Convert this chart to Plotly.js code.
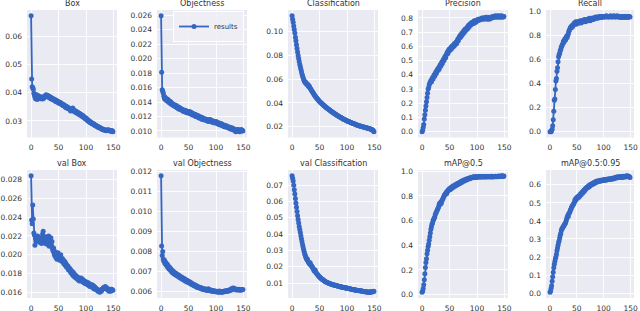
<!DOCTYPE html>
<html><head><meta charset="utf-8">
<script src="https://cdn.plot.ly/plotly-3.0.1.min.js"></script>
<style>html,body{margin:0;padding:0;background:#fff}#chart{width:640px;height:311px}</style>
</head><body><div id="chart"></div>
<script>
const epochs = [];
for (let i = 0; i < 150; i++) epochs.push(i);

const titles = ["Box","Objectness","Classification","Precision","Recall","val Box","val Objectness","val Classification","mAP@0.5","mAP@0.5:0.95"];
const tickFormats = [".2f",".3f",".2f",".1f",".1f",".3f",".3f",".2f",".1f",".1f"];
const tickSteps = [0.01,0.002,0.02,0.1,0.2,0.002,0.001,0.01,0.2,0.1];
const legendName = "results";

const box = [
0.0672,0.0448,0.0421,0.0418,0.0412,0.0398,0.0392,0.0385,0.0379,0.0394,
0.0388,0.0376,0.0391,0.0383,0.0387,0.0380,0.0385,0.0379,0.0382,0.0386,
0.0381,0.0378,0.0384,0.0380,0.0383,0.0386,0.0389,0.0393,0.0390,0.0388,
0.0391,0.0386,0.0384,0.0387,0.0381,0.0385,0.0379,0.0382,0.0377,0.0380,
0.0375,0.0378,0.0373,0.0376,0.0371,0.0369,0.0373,0.0367,0.0370,0.0365,
0.0368,0.0363,0.0366,0.0361,0.0364,0.0359,0.0362,0.0357,0.0355,0.0358,
0.0353,0.0356,0.0350,0.0348,0.0352,0.0346,0.0349,0.0344,0.0347,0.0342,
0.0345,0.0340,0.0335,0.0343,0.0338,0.0341,0.0346,0.0336,0.0339,0.0333,
0.0336,0.0331,0.0334,0.0328,0.0332,0.0326,0.0329,0.0324,0.0327,0.0321,
0.0324,0.0319,0.0322,0.0317,0.0315,0.0318,0.0312,0.0314,0.0309,0.0311,
0.0306,0.0309,0.0304,0.0301,0.0303,0.0298,0.0300,0.0295,0.0297,0.0293,
0.0295,0.0290,0.0292,0.0288,0.0290,0.0286,0.0287,0.0283,0.0285,0.0281,
0.0282,0.0279,0.0280,0.0277,0.0278,0.0275,0.0276,0.0273,0.0274,0.0271,
0.0272,0.0269,0.0270,0.0268,0.0269,0.0266,0.0268,0.0265,0.0267,0.0268,
0.0266,0.0269,0.0267,0.0265,0.0266,0.0264,0.0266,0.0263,0.0265,0.0262];

const objectness = [
0.0259,0.0181,0.0157,0.0155,0.0152,0.0148,0.0145,0.0147,0.0143,0.0145,
0.0142,0.0144,0.0141,0.0143,0.0140,0.0139,0.0141,0.0138,0.0140,0.0137,
0.0138,0.0136,0.0137,0.0135,0.0136,0.0134,0.0136,0.0133,0.0135,0.0132,
0.0133,0.0131,0.0133,0.0130,0.0132,0.0130,0.0131,0.0129,0.0130,0.0128,
0.0129,0.0127,0.0129,0.0127,0.0128,0.0126,0.0128,0.0125,0.0127,0.0126,
0.0126,0.0124,0.0127,0.0125,0.0126,0.0123,0.0125,0.0122,0.0124,0.0123,
0.0123,0.0121,0.0123,0.0120,0.0122,0.0120,0.0121,0.0119,0.0121,0.0118,
0.0120,0.0118,0.0119,0.0117,0.0119,0.0116,0.0118,0.0116,0.0117,0.0115,
0.0117,0.0115,0.0116,0.0114,0.0116,0.0115,0.0113,0.0115,0.0114,0.0116,
0.0115,0.0113,0.0114,0.0112,0.0114,0.0112,0.0113,0.0111,0.0113,0.0112,
0.0113,0.0111,0.0112,0.0110,0.0111,0.0109,0.0111,0.0109,0.0110,0.0108,
0.0110,0.0108,0.0109,0.0107,0.0108,0.0106,0.0108,0.0106,0.0107,0.0105,
0.0107,0.0105,0.0106,0.0104,0.0105,0.0103,0.0105,0.0103,0.0104,0.0102,
0.0104,0.0102,0.0103,0.0101,0.0102,0.0100,0.0099,0.0101,0.0100,0.0102,
0.0102,0.0100,0.0101,0.0099,0.0101,0.0100,0.0102,0.0100,0.0101,0.0100];

const classification = [
0.1135,0.1105,0.1080,0.1050,0.1020,0.0990,0.0955,0.0925,0.0890,0.0860,
0.0830,0.0800,0.0775,0.0750,0.0725,0.0705,0.0685,0.0665,0.0645,0.0630,
0.0615,0.0600,0.0588,0.0580,0.0570,0.0575,0.0562,0.0555,0.0560,0.0548,
0.0540,0.0545,0.0532,0.0525,0.0518,0.0510,0.0502,0.0495,0.0488,0.0480,
0.0472,0.0465,0.0458,0.0452,0.0446,0.0440,0.0435,0.0429,0.0424,0.0418,
0.0413,0.0409,0.0404,0.0400,0.0396,0.0391,0.0387,0.0383,0.0379,0.0375,
0.0371,0.0367,0.0363,0.0360,0.0356,0.0352,0.0349,0.0345,0.0342,0.0338,
0.0335,0.0331,0.0328,0.0325,0.0321,0.0318,0.0315,0.0312,0.0309,0.0305,
0.0302,0.0299,0.0296,0.0293,0.0291,0.0288,0.0285,0.0282,0.0279,0.0277,
0.0274,0.0271,0.0269,0.0266,0.0264,0.0261,0.0259,0.0256,0.0254,0.0252,
0.0250,0.0247,0.0245,0.0243,0.0241,0.0239,0.0237,0.0235,0.0233,0.0231,
0.0229,0.0227,0.0225,0.0224,0.0222,0.0220,0.0218,0.0217,0.0215,0.0213,
0.0212,0.0210,0.0209,0.0207,0.0206,0.0204,0.0203,0.0201,0.0200,0.0199,
0.0197,0.0196,0.0195,0.0194,0.0192,0.0191,0.0190,0.0189,0.0188,0.0187,
0.0185,0.0183,0.0181,0.0180,0.0178,0.0176,0.0174,0.0171,0.0165,0.0158];

const precision = [
0.00,0.01,0.03,0.05,0.09,0.12,0.15,0.18,0.21,0.24,
0.27,0.30,0.31,0.33,0.34,0.35,0.36,0.35,0.37,0.38,
0.37,0.39,0.40,0.39,0.41,0.42,0.41,0.43,0.44,0.43,
0.45,0.44,0.46,0.47,0.46,0.48,0.49,0.48,0.50,0.51,
0.50,0.52,0.53,0.52,0.54,0.55,0.56,0.55,0.57,0.58,
0.57,0.58,0.59,0.58,0.60,0.59,0.60,0.61,0.60,0.62,
0.61,0.62,0.63,0.62,0.64,0.65,0.64,0.66,0.67,0.66,
0.68,0.67,0.69,0.68,0.70,0.69,0.71,0.70,0.72,0.71,
0.72,0.73,0.72,0.74,0.73,0.75,0.74,0.75,0.76,0.75,
0.76,0.77,0.76,0.77,0.76,0.78,0.77,0.78,0.77,0.78,
0.785,0.78,0.79,0.785,0.79,0.785,0.79,0.795,0.79,0.80,
0.795,0.80,0.79,0.80,0.795,0.80,0.805,0.80,0.79,0.80,
0.805,0.80,0.79,0.80,0.795,0.80,0.805,0.80,0.81,0.805,
0.81,0.805,0.81,0.815,0.81,0.805,0.81,0.815,0.81,0.805,
0.81,0.815,0.81,0.805,0.81,0.815,0.81,0.805,0.81,0.81];

const recall = [
0.00,0.00,0.00,0.01,0.02,0.05,0.10,0.17,0.26,0.27,
0.35,0.42,0.44,0.50,0.53,0.58,0.62,0.64,0.65,0.67,
0.68,0.70,0.71,0.72,0.73,0.75,0.74,0.76,0.77,0.76,
0.78,0.79,0.78,0.80,0.81,0.83,0.84,0.85,0.86,0.87,
0.86,0.88,0.87,0.88,0.89,0.90,0.89,0.90,0.91,0.89,
0.90,0.91,0.90,0.91,0.90,0.91,0.92,0.91,0.90,0.92,
0.91,0.92,0.91,0.92,0.93,0.92,0.91,0.92,0.93,0.92,
0.93,0.92,0.93,0.94,0.93,0.92,0.93,0.94,0.93,0.94,
0.94,0.93,0.94,0.945,0.94,0.95,0.94,0.945,0.95,0.94,
0.95,0.945,0.95,0.955,0.95,0.945,0.95,0.955,0.95,0.95,
0.955,0.95,0.955,0.95,0.955,0.96,0.955,0.95,0.955,0.95,
0.955,0.95,0.955,0.96,0.955,0.95,0.955,0.95,0.955,0.96,
0.955,0.95,0.955,0.95,0.955,0.96,0.955,0.95,0.955,0.95,
0.955,0.95,0.945,0.95,0.955,0.95,0.955,0.95,0.945,0.95,
0.955,0.95,0.955,0.95,0.945,0.95,0.955,0.95,0.955,0.95];

const valBox = [
0.0284,0.0237,0.0233,0.0253,0.0238,0.0223,0.0221,0.0210,0.0217,0.0214,
0.0219,0.0216,0.0220,0.0214,0.0217,0.0215,0.0213,0.0218,0.0215,0.0212,
0.0216,0.0222,0.0225,0.0219,0.0214,0.0217,0.0212,0.0219,0.0215,0.0211,
0.0218,0.0213,0.0220,0.0209,0.0216,0.0212,0.0218,0.0210,0.0214,0.0206,
0.0204,0.0207,0.0201,0.0199,0.0203,0.0197,0.0200,0.0195,0.0198,0.0202,
0.0196,0.0199,0.0194,0.0197,0.0200,0.0195,0.0193,0.0196,0.0192,0.0194,
0.0190,0.0193,0.0189,0.0191,0.0187,0.0189,0.0186,0.0188,0.0184,0.0186,
0.0183,0.0185,0.0181,0.0183,0.0180,0.0182,0.0178,0.0181,0.0177,0.0179,
0.0176,0.0178,0.0175,0.0177,0.0174,0.0176,0.0173,0.0175,0.0172,0.0174,
0.0173,0.0175,0.0172,0.0174,0.0171,0.0173,0.0170,0.0172,0.0171,0.0169,
0.0171,0.0169,0.0170,0.0168,0.0170,0.0167,0.0169,0.0166,0.0168,0.0167,
0.0166,0.0168,0.0165,0.0167,0.0164,0.0166,0.0163,0.0165,0.0164,0.0163,
0.0162,0.0163,0.0161,0.0162,0.0161,0.0160,0.0161,0.0162,0.0161,0.0163,
0.0163,0.0164,0.0165,0.0164,0.0165,0.0166,0.0164,0.0165,0.0163,0.0164,
0.0162,0.0163,0.0161,0.0162,0.0163,0.0161,0.0162,0.0163,0.0162,0.0162];

const valObjectness = [
0.01178,0.00828,0.00780,0.00800,0.00762,0.00752,0.00758,0.00740,0.00748,0.00735,
0.00730,0.00738,0.00722,0.00729,0.00715,0.00712,0.00720,0.00706,0.00713,0.00700,
0.00697,0.00705,0.00692,0.00699,0.00688,0.00694,0.00684,0.00691,0.00680,0.00687,
0.00680,0.00675,0.00683,0.00671,0.00678,0.00668,0.00674,0.00665,0.00671,0.00662,
0.00660,0.00667,0.00656,0.00663,0.00653,0.00659,0.00650,0.00657,0.00647,0.00653,
0.00650,0.00644,0.00649,0.00640,0.00645,0.00637,0.00642,0.00634,0.00638,0.00631,
0.00630,0.00634,0.00627,0.00631,0.00624,0.00628,0.00621,0.00625,0.00619,0.00622,
0.00620,0.00617,0.00621,0.00614,0.00618,0.00612,0.00616,0.00611,0.00614,0.00609,
0.00613,0.00608,0.00612,0.00607,0.00611,0.00606,0.00614,0.00605,0.00609,0.00604,
0.00608,0.00603,0.00607,0.00602,0.00605,0.00601,0.00604,0.00600,0.00603,0.00599,
0.00600,0.00602,0.00598,0.00601,0.00597,0.00600,0.00603,0.00598,0.00601,0.00597,
0.00600,0.00597,0.00601,0.00598,0.00602,0.00599,0.00603,0.00600,0.00604,0.00601,
0.00605,0.00602,0.00606,0.00603,0.00608,0.00605,0.00610,0.00607,0.00612,0.00615,
0.00617,0.00614,0.00618,0.00615,0.00612,0.00609,0.00613,0.00610,0.00608,0.00611,
0.00609,0.00612,0.00608,0.00611,0.00607,0.00610,0.00608,0.00611,0.00609,0.00610];

const valClassification = [
0.0757,0.0742,0.0726,0.0700,0.0672,0.0645,0.0618,0.0590,0.0565,0.0538,
0.0513,0.0490,0.0468,0.0447,0.0428,0.0410,0.0391,0.0372,0.0355,0.0337,
0.0322,0.0306,0.0292,0.0278,0.0270,0.0259,0.0252,0.0243,0.0247,0.0235,
0.0228,0.0222,0.0218,0.0225,0.0212,0.0208,0.0203,0.0197,0.0191,0.0185,
0.0178,0.0173,0.0180,0.0168,0.0163,0.0158,0.0154,0.0150,0.0146,0.0142,
0.0138,0.0135,0.0132,0.0129,0.0126,0.0124,0.0121,0.0119,0.0116,0.0114,
0.0111,0.0109,0.0107,0.0106,0.0104,0.0102,0.0101,0.0099,0.0098,0.0097,
0.0096,0.0094,0.0093,0.0092,0.0091,0.0090,0.0089,0.0088,0.0087,0.0087,
0.0086,0.0085,0.0084,0.0083,0.0082,0.0081,0.0080,0.0079,0.0078,0.0077,
0.0076,0.0076,0.0075,0.0074,0.0073,0.0073,0.0072,0.0071,0.0071,0.0070,
0.0070,0.0069,0.0068,0.0068,0.0067,0.0066,0.0065,0.0064,0.0063,0.0062,
0.0061,0.0061,0.0060,0.0060,0.0059,0.0058,0.0058,0.0057,0.0057,0.0056,
0.0055,0.0055,0.0054,0.0054,0.0053,0.0053,0.0052,0.0052,0.0051,0.0050,
0.0049,0.0049,0.0048,0.0048,0.0047,0.0047,0.0046,0.0046,0.0045,0.0046,
0.0045,0.0046,0.0045,0.0046,0.0047,0.0046,0.0048,0.0047,0.0049,0.0050];

const map50 = [
0.02,0.03,0.05,0.08,0.12,0.17,0.22,0.26,0.29,0.33,
0.36,0.39,0.41,0.44,0.47,0.50,0.53,0.55,0.57,0.58,
0.60,0.61,0.62,0.63,0.65,0.66,0.67,0.68,0.69,0.70,
0.71,0.73,0.74,0.73,0.75,0.74,0.76,0.77,0.78,0.79,
0.80,0.81,0.81,0.82,0.83,0.82,0.84,0.84,0.85,0.85,
0.86,0.85,0.86,0.87,0.86,0.87,0.88,0.87,0.88,0.88,
0.89,0.88,0.89,0.89,0.90,0.89,0.90,0.90,0.91,0.90,
0.91,0.91,0.92,0.91,0.92,0.92,0.93,0.92,0.93,0.93,
0.935,0.93,0.94,0.935,0.94,0.94,0.945,0.94,0.945,0.95,
0.945,0.95,0.95,0.955,0.95,0.955,0.95,0.955,0.955,0.95,
0.955,0.953,0.956,0.954,0.957,0.955,0.953,0.956,0.954,0.957,
0.955,0.958,0.954,0.956,0.953,0.957,0.955,0.958,0.954,0.956,
0.957,0.955,0.958,0.956,0.954,0.957,0.955,0.959,0.956,0.954,
0.957,0.955,0.958,0.956,0.960,0.957,0.955,0.958,0.956,0.959,
0.962,0.958,0.960,0.957,0.961,0.959,0.963,0.960,0.958,0.961];

const map5095 = [
0.005,0.012,0.025,0.040,0.065,0.090,0.115,0.140,0.160,0.175,
0.190,0.200,0.215,0.235,0.250,0.265,0.280,0.290,0.305,0.320,
0.330,0.345,0.355,0.360,0.365,0.370,0.375,0.380,0.385,0.390,
0.400,0.410,0.420,0.430,0.425,0.440,0.445,0.450,0.460,0.465,
0.475,0.480,0.485,0.490,0.495,0.500,0.510,0.520,0.515,0.525,
0.530,0.525,0.535,0.530,0.540,0.535,0.545,0.550,0.545,0.555,
0.560,0.555,0.565,0.570,0.565,0.575,0.580,0.575,0.585,0.585,
0.590,0.585,0.595,0.590,0.600,0.595,0.600,0.605,0.600,0.605,
0.610,0.605,0.610,0.615,0.610,0.615,0.620,0.615,0.620,0.618,
0.622,0.618,0.623,0.620,0.625,0.622,0.626,0.623,0.627,0.624,
0.628,0.625,0.629,0.626,0.630,0.627,0.631,0.628,0.632,0.629,
0.633,0.630,0.634,0.631,0.635,0.632,0.636,0.633,0.637,0.634,
0.638,0.641,0.637,0.640,0.643,0.639,0.642,0.645,0.641,0.644,
0.640,0.643,0.646,0.642,0.645,0.641,0.644,0.647,0.643,0.646,
0.648,0.644,0.647,0.650,0.646,0.649,0.645,0.648,0.644,0.641];

const series = [box, objectness, classification, precision, recall, valBox, valObjectness, valClassification, map50, map5095];

const W = 640, H = 311;
const colLeft = [27, 157, 288, 418, 546];
const colW = [90, 90, 90, 90, 88];
const rowTop = [10, 170];
const rowBottom = [137.5, 298];
const lineColor = '#3466c2';
const font = {family: 'DejaVu Sans, sans-serif', size: 7.5, color: '#333'};

const traces = [];
const layout = {
  width: W, height: H,
  margin: {l: 0, r: 0, t: 0, b: 0},
  paper_bgcolor: '#ffffff',
  plot_bgcolor: '#EAEAF2',
  font: font,
  showlegend: true,
  legend: {
    x: 244 / W, y: 1 - 11 / H, xanchor: 'right', yanchor: 'top',
    bgcolor: 'rgba(238,238,244,0.9)', bordercolor: '#ffffff', borderwidth: 1,
    font: {family: 'DejaVu Sans, sans-serif', size: 7, color: '#333'},
    itemwidth: 30, tracegroupgap: 0
  },
  annotations: []
};

series.forEach((ys, i) => {
  const r = Math.floor(i / 5), c = i % 5;
  const n = i + 1;
  const xa = 'x' + (n === 1 ? '' : n), ya = 'y' + (n === 1 ? '' : n);
  traces.push({
    x: epochs, y: ys, type: 'scatter', mode: 'lines+markers',
    xaxis: xa, yaxis: ya, name: legendName,
    showlegend: i === 1,
    line: {color: lineColor, width: 1.8},
    marker: {color: lineColor, size: 5}
  });
  const ymin = Math.min(...ys), ymax = Math.max(...ys);
  const span = ymax - ymin;
  const xmin = epochs[0], xmax = epochs[epochs.length - 1];
  const xs = xmax - xmin;
  const axCommon = {
    showgrid: true, gridcolor: '#ffffff', gridwidth: 0.9,
    zeroline: false, showline: false,
    ticks: 'outside', ticklen: 2.5, tickcolor: 'rgba(0,0,0,0)',
    tickfont: font, fixedrange: true, ticklabeloverflow: 'allow'
  };
  layout['xaxis' + (n === 1 ? '' : n)] = Object.assign({}, axCommon, {
    domain: [colLeft[c] / W, (colLeft[c] + colW[c]) / W],
    range: [xmin - 0.05 * xs, xmax + 0.05 * xs],
    tickmode: 'array', tickvals: [0, 50, 100, 150], ticktext: ['0', '50', '100', '150'],
    anchor: ya
  });
  layout['yaxis' + (n === 1 ? '' : n)] = Object.assign({}, axCommon, {
    domain: [1 - rowBottom[r] / H, 1 - rowTop[r] / H],
    range: [ymin - 0.05 * span, ymax + 0.05 * span],
    tickmode: 'linear', tick0: 0, dtick: tickSteps[i], tickformat: tickFormats[i],
    anchor: xa
  });
  layout.annotations.push({
    text: titles[i], xref: 'paper', yref: 'paper',
    x: (colLeft[c] + colW[c] / 2) / W, y: 1 - (rowTop[r] - 7) / H,
    xanchor: 'center', yanchor: 'middle', showarrow: false,
    font: {family: 'DejaVu Sans, sans-serif', size: 8, color: '#333'}
  });
});

Plotly.newPlot('chart', traces, layout, {staticPlot: true, displayModeBar: false});
</script>
</body></html>
